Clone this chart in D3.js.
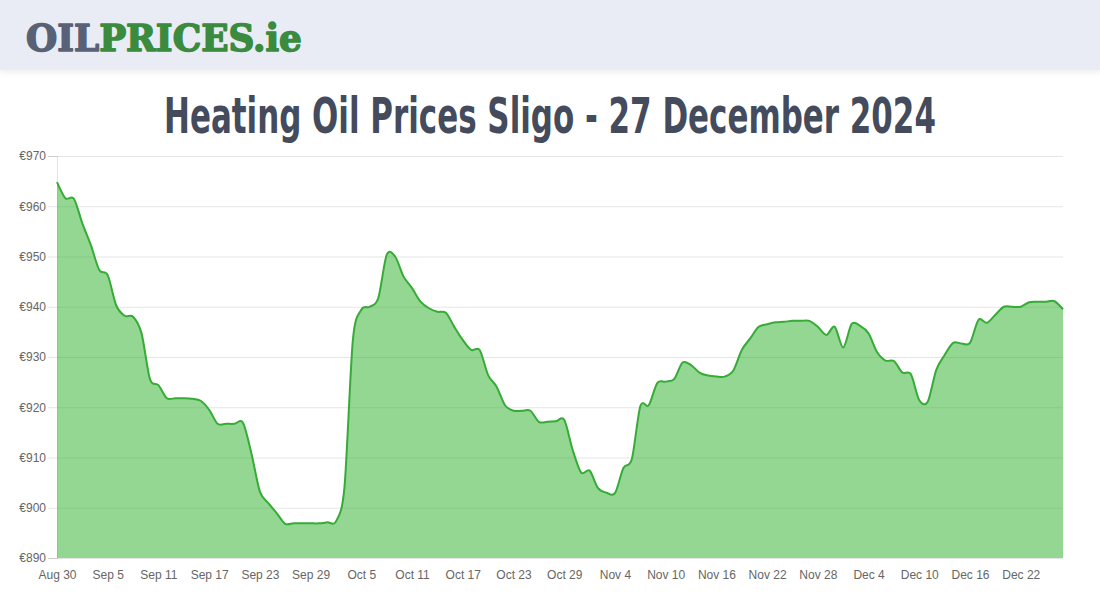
<!DOCTYPE html>
<html lang="en">
<head>
  <meta charset="UTF-8" />
  <title>Heating Oil Prices Sligo</title>
  <script src="https://d3js.org/d3.v7.min.js"></script>
  <style>
    body {
      margin: 0;
      padding: 0;
      background: #fff;
      font-family: "Liberation Sans", Arial, sans-serif;
    }
    svg { display: block; }
    .axis text { font-size: 12px; fill: #666; font-family: "Liberation Sans", Arial, sans-serif; }
  </style>
</head>
<body>
  <svg id="chart" width="1100" height="600"></svg>

  <script>
    // daily prices, Aug 30 .. Dec 27 2024
    const startDay = "2024-08-30";
    const endDay = "2024-12-27";
    const prices = [
      964.8, 961.6, 961.5, 956.6, 952.3, 947.3, 946.3, 940.3, 938.2, 938.0,
      934.7, 925.6, 924.4, 921.8, 921.8, 921.8, 921.7, 921.3, 919.5, 916.7,
      916.7, 916.7, 916.9, 910.8, 903.2, 900.9, 898.9, 896.8, 896.9, 896.9,
      896.9, 896.9, 897.1, 897.3, 904.0, 933.4, 939.4, 940.0, 941.7, 950.3,
      950.0, 946.0, 943.7, 941.0, 939.7, 939.0, 938.8, 936.0, 933.4, 931.4,
      931.4, 926.4, 924.1, 920.4, 919.3, 919.3, 919.3, 917.1, 917.1, 917.2,
      917.5, 911.5, 907.0, 907.4, 903.9, 903.0, 902.9, 907.9, 909.7, 920.2,
      920.4, 924.8, 925.1, 925.6, 928.9, 928.4, 926.9, 926.3, 926.1, 926.1,
      927.3, 931.4, 933.7, 936.0, 936.5, 936.9, 937.0, 937.2, 937.2, 937.2,
      936.0, 934.4, 936.0, 931.9, 936.6, 936.2, 934.7, 931.0, 929.3, 929.2,
      926.9, 926.6, 921.4, 921.1, 927.4, 930.4, 932.8, 932.7, 932.8, 937.4,
      936.8, 938.4, 940.0, 940.0, 940.0, 940.9, 941.0, 941.0, 941.1, 939.5
    ];
    const xTickLabels = ["Aug 30", "Sep 5", "Sep 11", "Sep 17", "Sep 23", "Sep 29", "Oct 5",
      "Oct 11", "Oct 17", "Oct 23", "Oct 29", "Nov 4", "Nov 10", "Nov 16", "Nov 22",
      "Nov 28", "Dec 4", "Dec 10", "Dec 16", "Dec 22"];
    const yTicks = [890, 900, 910, 920, 930, 940, 950, 960, 970];
    const titleText = "Heating Oil Prices Sligo - 27 December 2024";

    const parseDay = d3.timeParse("%Y-%m-%d");
    const parseTick = d3.timeParse("%b %d %Y");
    const days = d3.timeDay.range(parseDay(startDay), d3.timeDay.offset(parseDay(endDay), 1));
    const data = days.map((d, i) => ({ date: d, price: prices[i] }));
    const tickDates = xTickLabels.map(s => parseTick(s + " 2024"));

    const svg = d3.select("#chart");
    const margin = { top: 156, right: 37, bottom: 42, left: 57 };
    const width = 1100 - margin.left - margin.right;
    const height = 600 - margin.top - margin.bottom;

    // squeeze a text horizontally so it spans the wanted width
    function fitWidth(sel, x0, wanted) {
      const natural = sel.node().getComputedTextLength();
      const k = wanted / natural;
      sel.attr("transform", `translate(${x0},0) scale(${k},1)`);
    }

    // header band
    const defs = svg.append("defs");
    const shadow = defs.append("filter").attr("id", "shadow")
      .attr("x", "-5%").attr("y", "-20%").attr("width", "110%").attr("height", "160%");
    shadow.append("feDropShadow")
      .attr("dx", 0).attr("dy", 2).attr("stdDeviation", 3)
      .attr("flood-color", "#000").attr("flood-opacity", 0.08);

    svg.append("rect")
      .attr("x", 0).attr("y", 0).attr("width", 1100).attr("height", 70)
      .attr("fill", "#e9ecf4")
      .attr("filter", "url(#shadow)");

    const logo = svg.append("text")
      .attr("x", 0).attr("y", 51)
      .attr("font-family", "'DejaVu Serif', serif")
      .attr("font-weight", "bold")
      .attr("font-size", 38)
      .attr("stroke-width", 1.6)
      .attr("stroke-linejoin", "round");
    logo.append("tspan").attr("fill", "#586175").attr("stroke", "#586175").text("OIL");
    logo.append("tspan").attr("fill", "#3a8b3e").attr("stroke", "#3a8b3e").text("PRICES.ie");
    fitWidth(logo, 26, 276);

    const title = svg.append("text")
      .attr("x", 0).attr("y", 133)
      .attr("font-family", "'Liberation Sans Narrow', 'DejaVu Sans Condensed', sans-serif")
      .attr("font-weight", "bold")
      .attr("font-size", 50)
      .attr("fill", "#434b5c")
      .text(titleText);
    fitWidth(title, 164, 772);

    const g = svg.append("g").attr("transform", `translate(${margin.left},${margin.top})`);

    const x = d3.scaleTime()
      .domain(d3.extent(days))
      .range([0, width]);

    const y = d3.scaleLinear()
      .domain([890, 970])
      .range([height, 0]);

    // grid lines
    g.append("g")
      .attr("class", "grid")
      .call(d3.axisLeft(y).tickValues(yTicks).tickSize(-width).tickFormat(""))
      .call(s => s.select(".domain").remove())
      .call(s => s.selectAll("line").attr("stroke", "rgba(0,0,0,0.1)"));

    // y axis with short ticks
    g.append("g")
      .attr("class", "axis")
      .call(d3.axisLeft(y).tickValues(yTicks).tickSize(9).tickPadding(2).tickFormat(d => "€" + d))
      .call(s => s.select(".domain").attr("stroke", "rgba(0,0,0,0.1)"))
      .call(s => s.selectAll("line").attr("stroke", "rgba(0,0,0,0.1)"));

    const curve = d3.curveCardinal.tension(0.1);

    const area = d3.area()
      .x(d => x(d.date))
      .y0(height)
      .y1(d => y(d.price))
      .curve(curve);

    const line = d3.line()
      .x(d => x(d.date))
      .y(d => y(d.price))
      .curve(curve);

    g.append("path")
      .datum(data)
      .attr("d", area)
      .attr("fill", "rgba(40,175,40,0.5)");

    g.append("path")
      .datum(data)
      .attr("d", line)
      .attr("fill", "none")
      .attr("stroke", "#36ab36")
      .attr("stroke-width", 2);

    // x axis labels
    g.append("g")
      .attr("class", "axis")
      .attr("transform", `translate(0,${height})`)
      .call(d3.axisBottom(x).tickValues(tickDates).tickSize(0).tickPadding(12)
        .tickFormat((d, i) => xTickLabels[i]))
      .call(s => s.select(".domain").remove());
  </script>
</body>
</html>
